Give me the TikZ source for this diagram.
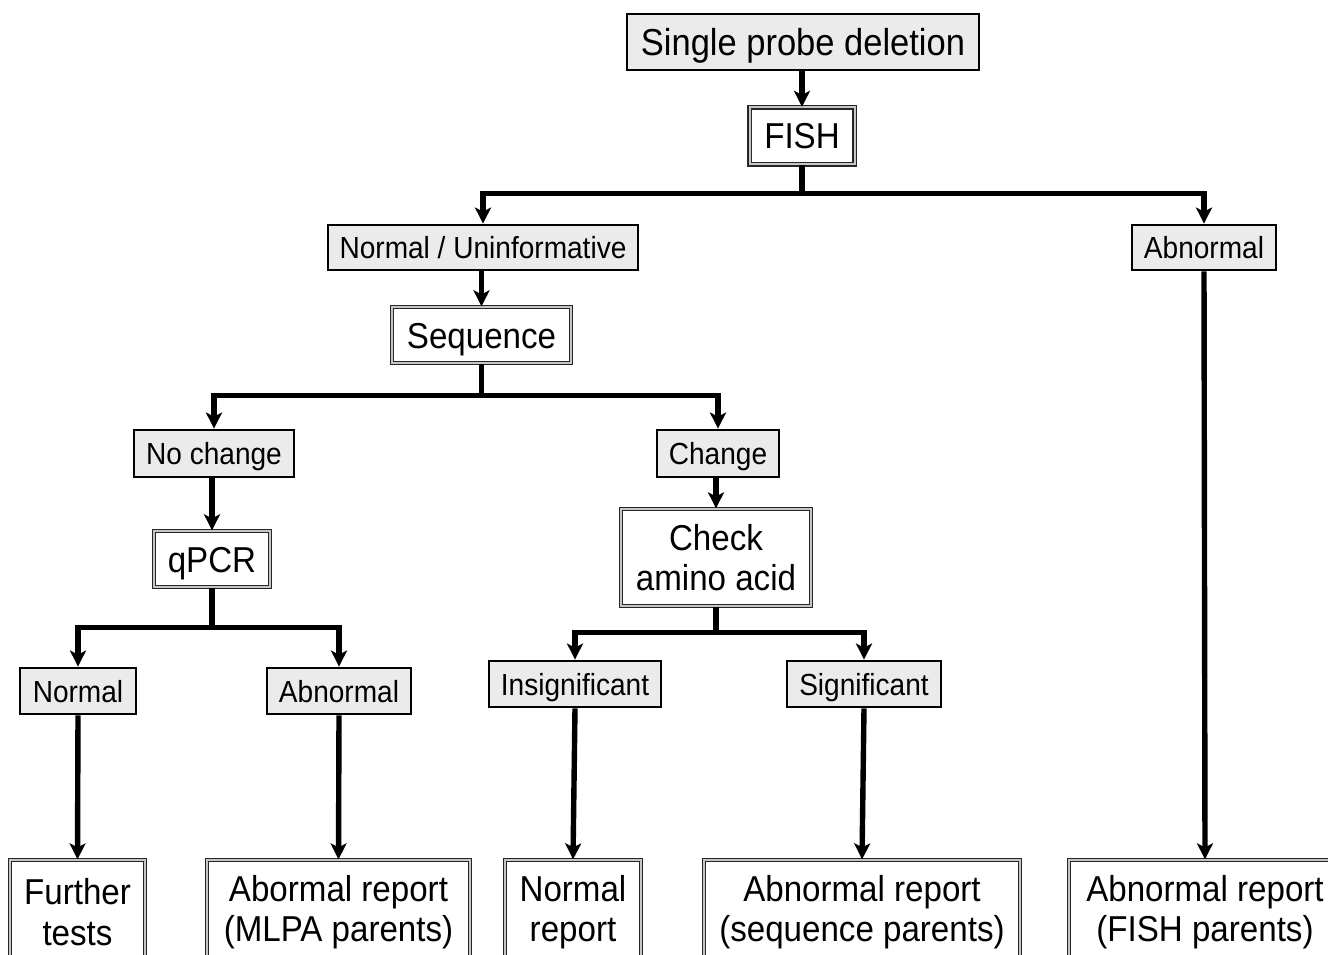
\documentclass[tikz,border=0pt]{standalone}
\usepackage{fontspec}
\setmainfont[FakeStretch=0.92]{Liberation Sans}
\usetikzlibrary{arrows.meta}
\begin{document}
\begin{tikzpicture}[x=1pt,y=-1pt,
  gbox/.style={draw=black, line width=2.8pt, fill=gray!16, inner sep=0pt,
    font=\fontsize{30.5}{34}\selectfont, text height=22pt, text depth=0pt},
  dbox/.style={draw=black!85, double=gray!45, line width=1.3pt, double distance=2pt,
    fill=white, inner sep=0pt, align=center, font=\fontsize{36}{40.5}\selectfont},
  sbox/.style={dbox, text height=26pt, text depth=0pt},
  conn/.style={line width=5.4pt, -{Stealth[length=16pt,width=16pt,inset=4pt]}}]
\useasboundingbox (0,0) rectangle (1328,955);
\clip (0,0) rectangle (1328,955);
% nodes
\node[gbox, minimum width=352, minimum height=56, font=\fontsize{37.5}{40}\selectfont, text height=27pt] (spd) at (803,42) {Single probe deletion};
\node[sbox, minimum width=105, minimum height=57] (fish) at (802,136) {FISH};
\node[gbox, minimum width=310, minimum height=45] (nu) at (483,247.5) {Normal / Uninformative};
\node[gbox, minimum width=144, minimum height=45] (abn1) at (1204,247.5) {Abnormal};
\node[sbox, minimum width=179, minimum height=56] (seq) at (481.5,335) {Sequence};
\node[gbox, minimum width=160, minimum height=47] (noch) at (214,453.5) {No change};
\node[gbox, minimum width=122, minimum height=47] (chg) at (718,453.5) {Change};
\node[sbox, minimum width=116, minimum height=56] (qpcr) at (212,559) {qPCR};
\node[dbox, minimum width=190, minimum height=97] (chk) at (716,557.5) {Check\\amino acid};
\node[gbox, minimum width=116, minimum height=46] (nrm) at (78,691) {Normal};
\node[gbox, minimum width=144, minimum height=46] (abn2) at (339,691) {Abnormal};
\node[gbox, minimum width=172, minimum height=46] (ins) at (575,684) {Insignificant};
\node[gbox, minimum width=154, minimum height=46] (sig) at (864,684) {Significant};
\node[dbox, minimum width=135, minimum height=104] (ft) at (77.5,912) {Further\\tests};
\node[dbox, minimum width=263, minimum height=104] (amr) at (338.5,912) {Abormal report\\(MLPA parents)};
\node[dbox, minimum width=136, minimum height=104] (nr) at (573,912) {Normal\\report};
\node[dbox, minimum width=316, minimum height=104] (asr) at (862,912) {Abnormal report\\(sequence parents)};
\node[dbox, minimum width=272, minimum height=104] (afr) at (1205,912) {Abnormal report\\(FISH parents)};
% connectors
\draw[conn] (spd.south -| fish.north) -- (fish.north);
\draw[conn] (fish.south) -- ++(0,28.5) -| (nu.north);
\draw[conn] (fish.south) -- ++(0,28.5) -| (abn1.north);
\draw[conn] (nu.south -| seq.north) -- (seq.north);
\draw[conn] (seq.south) -- ++(0,32) -| (noch.north);
\draw[conn] (seq.south) -- ++(0,32) -| (chg.north);
\draw[conn] (qpcr.north |- noch.south) -- (qpcr.north);
\draw[conn] (chk.north |- chg.south) -- (chk.north);
\draw[conn] (qpcr.south) -- ++(0,40) -| (nrm.north);
\draw[conn] (qpcr.south) -- ++(0,40) -| (abn2.north);
\draw[conn] (chk.south) -- ++(0,26) -| (ins.north);
\draw[conn] (chk.south) -- ++(0,26) -| (sig.north);
\draw[conn] (nrm.south) -- (ft.north);
\draw[conn] (abn2.south) -- (amr.north);
\draw[conn] (ins.south) -- (nr.north);
\draw[conn] (sig.south) -- (asr.north);
\draw[conn] (abn1.south) -- (afr.north);
\end{tikzpicture}
\end{document}
